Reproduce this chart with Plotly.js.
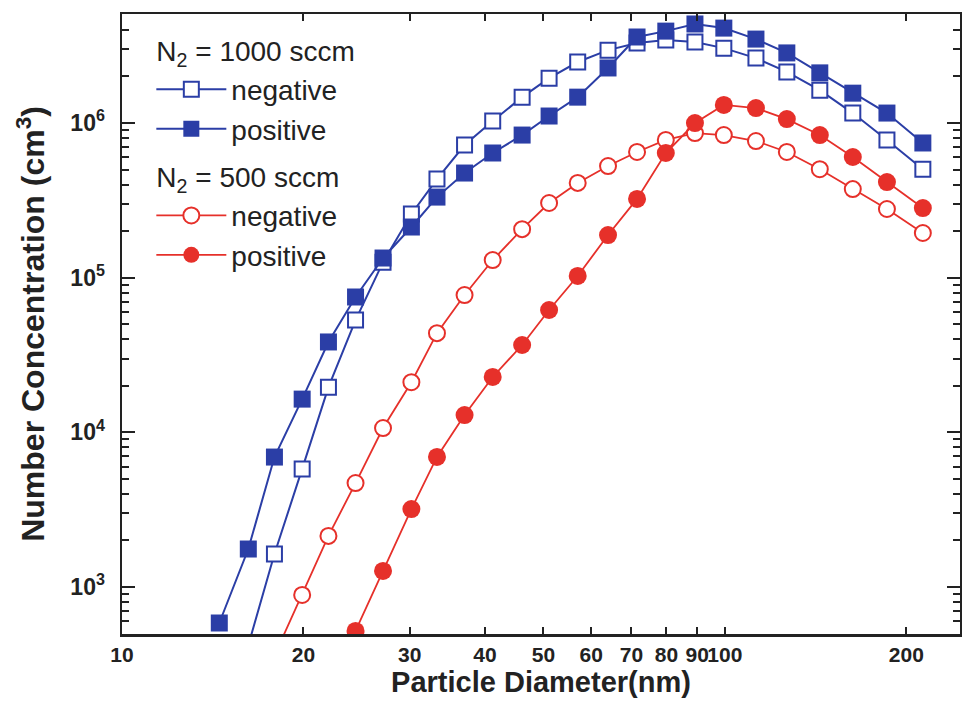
<!DOCTYPE html>
<html>
<head>
<meta charset="utf-8">
<script src="https://cdn.plot.ly/plotly-3.0.1.min.js"></script>
<style>html,body{margin:0;padding:0;background:#fff;}#chart{width:962px;height:715px;}</style>
</head>
<body>
<div id="chart"></div>
<script>
// Particle diameter bins (nm)
const diameter = [14.5, 16.2, 17.9, 19.9, 22.0, 24.4, 27.1, 30.2, 33.3, 37.0, 41.2, 46.1, 51.1, 57.0, 64.0, 71.5, 79.8, 89.2, 99.6, 112.6, 126.7, 143.7, 163.0, 185.7, 213.0];

// N2 = 1000 sccm
const neg1000 = [null, 420, 1635, 5800, 19600, 53200, 126000, 258000, 434000, 721000, 1030000, 1470000, 1950000, 2480000, 2960000, 3290000, 3440000, 3340000, 3050000, 2630000, 2140000, 1630000, 1160000, 777000, 503000];
const pos1000 = [585, 1760, 6920, 16400, 38400, 75000, 134000, 212600, 332000, 475000, 640000, 836000, 1110000, 1470000, 2270000, 3600000, 3930000, 4370000, 4110000, 3490000, 2840000, 2110000, 1560000, 1160000, 743000];

// N2 = 500 sccm
const neg500 = [null, null, 360, 888, 2140, 4700, 10660, 21100, 43800, 77200, 130000, 206000, 304000, 410000, 527000, 650000, 777000, 861000, 836000, 765000, 650000, 503000, 374000, 278000, 194500];
const pos500 = [null, null, null, null, 216, 520, 1270, 3190, 6930, 12940, 22800, 36700, 61800, 102600, 188700, 323000, 640000, 1000000, 1310000, 1250000, 1060000, 836000, 603000, 415000, 282000];

const xTickVals = [10, 20, 30, 40, 50, 60, 70, 80, 90, 100, 200];
const xTickText = ['10', '20', '30', '40', '50', '60', '70', '80', '90', '100', '200'];
const yTickVals = [1e3, 1e4, 1e5, 1e6];
const yTickText = ['10<sup>3</sup>', '10<sup>4</sup>', '10<sup>5</sup>', '10<sup>6</sup>'];

const BLUE = '#2b3ea6';
const RED = '#e6302a';
const FONT = 'Liberation Sans, Arial, sans-serif';

const traces = [
  {x: diameter, y: neg1000, name: 'negative', legendgroup: 'g1000',
   legendgrouptitle: {text: 'N<sub>2</sub> = 1000 sccm', font: {family: FONT, size: 28, color: '#222'}},
   mode: 'lines+markers', line: {color: BLUE, width: 2},
   marker: {symbol: 'square', size: 15, color: '#fff', line: {color: BLUE, width: 2}}},
  {x: diameter, y: pos1000, name: 'positive', legendgroup: 'g1000',
   mode: 'lines+markers', line: {color: BLUE, width: 2},
   marker: {symbol: 'square', size: 17, color: BLUE, line: {color: BLUE, width: 0}}},
  {x: diameter, y: neg500, name: 'negative', legendgroup: 'g500',
   legendgrouptitle: {text: 'N<sub>2</sub> = 500 sccm', font: {family: FONT, size: 28, color: '#222'}},
   mode: 'lines+markers', line: {color: RED, width: 1.8},
   marker: {symbol: 'circle', size: 16, color: '#fff', line: {color: RED, width: 2}}},
  {x: diameter, y: pos500, name: 'positive', legendgroup: 'g500',
   mode: 'lines+markers', line: {color: RED, width: 1.8},
   marker: {symbol: 'circle', size: 18, color: RED, line: {color: RED, width: 0}}}
];

const layout = {
  width: 962, height: 715,
  margin: {l: 122, r: 2, t: 14, b: 81},
  paper_bgcolor: '#fff', plot_bgcolor: '#fff',
  showlegend: true,
  legend: {x: 0.035, y: 0.982, xanchor: 'left', yanchor: 'top', itemwidth: 70,
           bgcolor: 'rgba(0,0,0,0)', font: {family: FONT, size: 28, color: '#222'},
           tracegroupgap: 8, traceorder: 'grouped'},
  xaxis: {type: 'log', range: [1, 2.39], tickmode: 'array', tickvals: xTickVals, ticktext: xTickText,
          tickangle: 0, ticks: 'inside', ticklen: 7, tickwidth: 2, tickcolor: '#222',
          showline: true, linewidth: 2.5, linecolor: '#222', mirror: 'ticks', showgrid: false, zeroline: false,
          tickfont: {family: FONT, size: 21, color: '#222', weight: 'bold'},
          title: {text: '<b>Particle Diameter(nm)</b>', font: {family: FONT, size: 29, color: '#222'}, standoff: 7}},
  xaxis2: {type: 'log', range: [1, 2.39], overlaying: 'x', anchor: 'y', side: 'bottom', tickmode: 'array',
           tickvals: [10, 100], ticks: 'inside', ticklen: 14, tickwidth: 2, tickcolor: '#222',
           showticklabels: false, showgrid: false, zeroline: false, showline: false, mirror: 'ticks'},
  yaxis: {type: 'log', range: [2.696, 6.705], tickmode: 'array', tickvals: yTickVals, ticktext: yTickText,
          ticks: 'inside', ticklen: 13, tickwidth: 2, tickcolor: '#222', ticklabelstandoff: 10,
          minor: {ticks: 'inside', ticklen: 7, tickwidth: 2, tickcolor: '#222', dtick: 'D1', showgrid: false},
          showline: true, linewidth: 2.5, linecolor: '#222', mirror: 'ticks', showgrid: false, zeroline: false,
          tickfont: {family: FONT, size: 23, color: '#222', weight: 'bold'},
          title: {text: '<b>Number Concentration (cm<sup>3</sup>)</b>', font: {family: FONT, size: 32, color: '#222'}, standoff: 16}}
};

Plotly.newPlot('chart', traces, layout, {staticPlot: true, displayModeBar: false});
</script>
</body>
</html>
